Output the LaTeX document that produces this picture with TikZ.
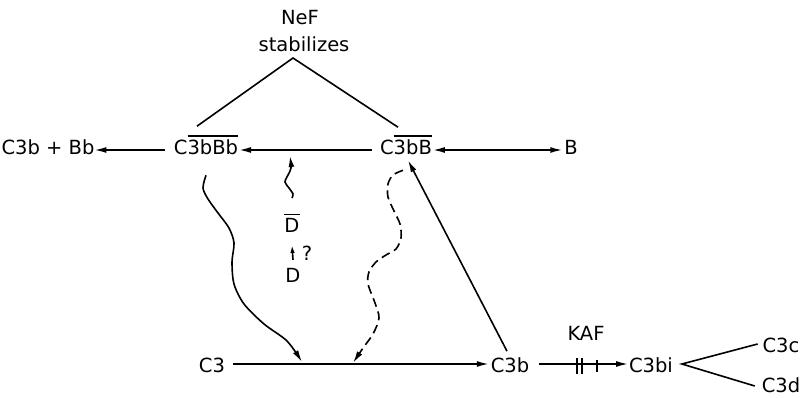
\documentclass[tikz,border=0pt]{standalone}
\usepackage{fontspec}
\setmainfont{DejaVu Sans}
\usetikzlibrary{arrows.meta}
\newcommand\barred[1]{\vbox{\hrule height 1.5pt\kern 3.5pt\hbox{#1}}}
\begin{document}
\begin{tikzpicture}[x=1pt, y=-1pt, line width=1.6pt,
  >={Latex[length=12pt,width=6pt]},
  txt/.style={inner sep=0pt, outer sep=0pt, anchor=base, font=\fontsize{19.5}{22}\selectfont},
  dashwave/.style={dash pattern=on 9pt off 5pt},
  tickmark/.style={line width=1.6pt}]
\useasboundingbox (0,0) rectangle (803,398);
% text nodes
\node[txt] (nef) at (300,25) {NeF};
\node[txt] (stab) at (304,52) {stabilizes};
\node[txt] (prod) at (48,155) {C3b + Bb};
\node[txt] (c3bbb) at (206,155) {C\barred{3bBb}};
\node[txt] (c3bb) at (406,155) {C\barred{3bB}};
\node[txt] (b) at (571,155) {B};
\node[txt] (dbar) at (292,233) {\barred{D}};
\node[txt] (q) at (307,260) {?};
\node[txt] (d) at (293,282) {D};
\node[txt] (c3) at (212,372) {C3};
\node[txt] (c3b) at (510,372) {C3b};
\node[txt] (kaf) at (586,340) {KAF};
\node[txt] (c3bi) at (651,372) {C3bi};
\node[txt] (c3c) at (781,352) {C3c};
\node[txt] (c3d) at (781,392) {C3d};
% NeF triangle
\coordinate (apex) at (293,58);
\draw ([xshift=-9pt,yshift=9pt]c3bbb.north) -- (apex) -- ([xshift=-8pt,yshift=8pt]c3bb.north);
% top row
\draw[->, shorten <=9pt] ([yshift=5pt]c3bbb.base west) -- ([yshift=5pt]prod.base east);
\draw[->, shorten <=8pt, shorten >=1pt] ([yshift=5pt]c3bb.base west) -- ([yshift=5pt]c3bbb.base east);
\draw[<->, shorten <=1pt, shorten >=2pt] ([yshift=5pt]c3bb.base east) -- ([yshift=5pt]b.base west);
% D activation
\coordinate (ws) at (292,198);
\draw[-{Latex[length=11pt,width=6pt]}] plot[smooth] coordinates {(ws) (293,194) (289,188) (285,182) (288,175) (291,168) (290,156)};
\draw[-{Latex[length=8pt,width=4.5pt]}] ([yshift=8pt]d.north) -- ([yshift=-12pt]dbar.south);
% bottom row
\draw[->, shorten <=8pt, shorten >=2pt] ([yshift=8pt]c3.base east) -- ([yshift=8pt]c3b.base west);
\draw[->, shorten <=10pt, shorten >=1pt] ([yshift=8pt]c3b.base east) -- ([yshift=8pt]c3bi.base west);
\draw[tickmark] (577,358) -- (577,374);
\draw[tickmark] (582,358) -- (582,374);
\draw[tickmark] (597,360) -- (597,372);
% C3b back to C3bB
\draw[->] ([xshift=-3pt,yshift=6pt]c3b.north) -- ([xshift=2pt,yshift=-5pt]c3bb.south);
% C3bi fork
\coordinate (fk) at ([xshift=9pt,yshift=8pt]c3bi.base east);
\draw ([xshift=-5pt,yshift=8pt]c3c.base west) -- (fk) -- ([xshift=-7pt,yshift=6pt]c3d.base west);
% wavy solid arrow
\coordinate (sw) at ([yshift=-20pt]c3bbb.south);
\draw[->] plot[smooth] coordinates {(sw) (203,188) (208,199) (218,213) (229,228) (234,243) (232,262) (234,284) (244,304) (264,324) (287,341) (302,362)};
% wavy dashed arrow
\coordinate (dw) at ([xshift=-3pt,yshift=-15pt]c3bb.south);
\draw[->, dashwave] plot[smooth] coordinates {(dw) (393,175) (388,184) (388,197) (394,211) (400,224) (401,238) (396,249) (386,255) (376,262) (369,272) (368,284) (375,303) (379,318) (373,334) (363,348) (353,363)};
\end{tikzpicture}
\end{document}
